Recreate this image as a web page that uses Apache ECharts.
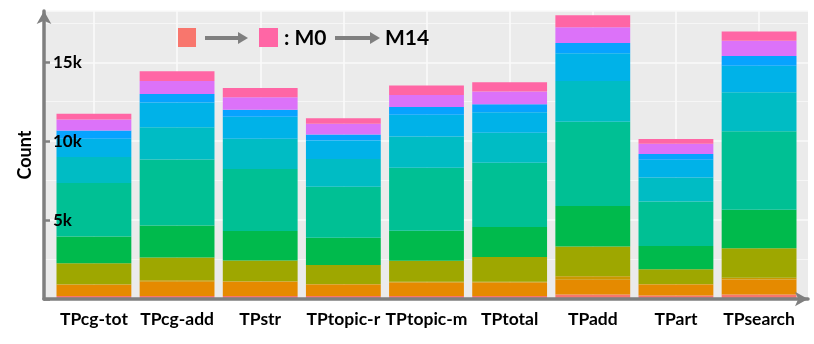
<!DOCTYPE html>
<html lang="en">
  <head>
    <meta charset="UTF-8" />
    <title>Count by model</title>
    <script src="https://cdn.jsdelivr.net/npm/echarts@6/dist/echarts.min.js"></script>
  </head>
  <body style="margin: 0; background: #fff">
    <div id="main" style="width: 814px; height: 344px"></div>
    <script type="text/javascript">
      // categories along x
      const categories = ['TPcg-tot', 'TPcg-add', 'TPstr', 'TPtopic-r', 'TPtopic-m', 'TPtotal', 'TPadd', 'TPart', 'TPsearch'];

      // stacked layers, bottom (M0) to top (M14)
      const m0 = [197, 197, 197, 197, 197, 197, 280, 216, 280];
      const m1 = [699, 889, 889, 718, 845, 845, 934, 699, 953];
      const m2 = [40, 102, 40, 30, 50, 50, 229, 30, 108];
      const m3 = [1334, 1442, 1309, 1207, 1334, 1569, 1887, 934, 1880];
      const m5 = [1690, 2033, 1868, 1734, 1906, 1906, 2560, 1480, 2440];
      const m6 = [3392, 4174, 3939, 3221, 3983, 4066, 5336, 2814, 4974];
      const m7 = [1639, 2052, 1906, 1760, 1989, 1906, 2586, 1525, 2459];
      const m9 = [1156, 1569, 1398, 1182, 1379, 1290, 1760, 1124, 1690];
      const m10 = [527, 527, 445, 381, 483, 508, 654, 362, 616];
      const m12 = [699, 826, 800, 680, 762, 807, 997, 654, 972];
      const m14 = [362, 616, 572, 337, 597, 591, 762, 299, 572];

      const layers = [
        ['M0', m0, '#F8766D'],
        ['M1', m1, '#E58A00'],
        ['M2', m2, '#CB9700'],
        ['M3', m3, '#9EA700'],
        ['M5', m5, '#00BA4C'],
        ['M6', m6, '#00C094'],
        ['M7', m7, '#00BCC4'],
        ['M9', m9, '#00B2E8'],
        ['M10', m10, '#07A3FF'],
        ['M12', m12, '#DC72F9'],
        ['M14', m14, '#FF66A5']
      ];

      const yMax = 18250;
      const font = 'Lato, "Open Sans", sans-serif';
      const axisGray = '#7F7F7F';

      let myChart = echarts.init(document.getElementById('main'));

      const hidden = { show: false };

      let options = {
        animation: false,
        textStyle: { fontFamily: font },
        grid: [
          // grey panel
          { left: 44, right: 6, top: 11, bottom: 45, show: true, backgroundColor: '#EBEBEB', borderWidth: 0, z: -1 },
          // bars
          { left: 52.35, right: 13.35, top: 11, bottom: 45 },
          // vertical grid lines at bar centres
          { left: 94, right: 55, top: 11, bottom: 45 }
        ],
        xAxis: [
          {
            gridIndex: 0, type: 'value', min: 0, max: 1, z: 5,
            axisLine: { show: true, lineStyle: { color: axisGray, width: 3.5 }, symbol: ['none', 'arrow'], symbolSize: [11, 13] },
            axisTick: hidden, axisLabel: hidden, splitLine: hidden
          },
          {
            gridIndex: 1, type: 'category', data: categories,
            axisLine: hidden, axisTick: hidden, splitLine: hidden,
            axisLabel: { interval: 0, margin: 11, fontSize: 17.5, fontWeight: 'bold', color: '#000', fontFamily: font }
          },
          {
            gridIndex: 2, type: 'category', data: categories, boundaryGap: false,
            axisLine: hidden, axisTick: hidden, axisLabel: hidden,
            splitLine: { show: true, interval: 0, lineStyle: { color: '#FAFAFA', width: 1.6 } }
          }
        ],
        yAxis: [
          {
            gridIndex: 0, type: 'value', min: 0, max: yMax, interval: 5000, z: 5,
            name: 'Count', nameLocation: 'middle', nameGap: 10,
            nameTextStyle: { fontSize: 18, fontWeight: 'bold', color: '#000', fontFamily: font },
            axisLine: { show: true, lineStyle: { color: axisGray, width: 3.5 }, symbol: ['none', 'arrow'], symbolSize: [11, 13] },
            axisTick: { show: true, inside: true, length: 6, lineStyle: { color: axisGray, width: 2.5 } },
            axisLabel: {
              inside: true, margin: 9, fontSize: 17, fontWeight: 'bold', color: '#000', fontFamily: font,
              showMaxLabel: false,
              formatter: (v) => (v > 0 && v % 5000 === 0 ? v / 1000 + 'k' : '')
            },
            splitLine: hidden
          },
          {
            gridIndex: 0, type: 'value', min: 0, max: yMax, interval: 5000,
            axisLine: hidden, axisTick: hidden, axisLabel: hidden,
            splitLine: { show: true, lineStyle: { color: '#FAFAFA', width: 1.6 } }
          },
          {
            gridIndex: 0, type: 'value', min: 0, max: yMax, interval: 2500,
            axisLine: hidden, axisTick: hidden, axisLabel: hidden,
            splitLine: { show: true, lineStyle: { color: '#F6F6F6', width: 1 } }
          },
          { gridIndex: 1, type: 'value', min: 0, max: yMax, show: false },
          { gridIndex: 2, type: 'value', min: 0, max: yMax, show: false }
        ],
        series: layers.map(([name, values, color]) => ({
          name: name,
          type: 'bar',
          stack: 'total',
          xAxisIndex: 1,
          yAxisIndex: 3,
          barWidth: '90%',
          z: 2,
          itemStyle: { color: color },
          data: values
        })),
        graphic: [
          { type: 'rect', z: 100, shape: { x: 178, y: 28, width: 18, height: 19 }, style: { fill: '#F8766D' } },
          { type: 'line', z: 100, shape: { x1: 205, y1: 38, x2: 240, y2: 38 }, style: { stroke: axisGray, lineWidth: 4 } },
          { type: 'polygon', z: 100, shape: { points: [[238, 32], [248, 38], [238, 44]] }, style: { fill: axisGray } },
          { type: 'rect', z: 100, shape: { x: 259, y: 28, width: 19, height: 19 }, style: { fill: '#FF66A5' } },
          {
            type: 'text', z: 100, x: 284, y: 38,
            style: { text: ': M0', font: 'bold 21px ' + font, fill: '#000', verticalAlign: 'middle' }
          },
          { type: 'line', z: 100, shape: { x1: 335, y1: 38, x2: 372, y2: 38 }, style: { stroke: axisGray, lineWidth: 4 } },
          { type: 'polygon', z: 100, shape: { points: [[370, 32], [380, 38], [370, 44]] }, style: { fill: axisGray } },
          {
            type: 'text', z: 100, x: 385, y: 38,
            style: { text: 'M14', font: 'bold 21px ' + font, fill: '#000', verticalAlign: 'middle' }
          }
        ]
      };

      myChart.setOption(options);
    </script>
  </body>
</html>
